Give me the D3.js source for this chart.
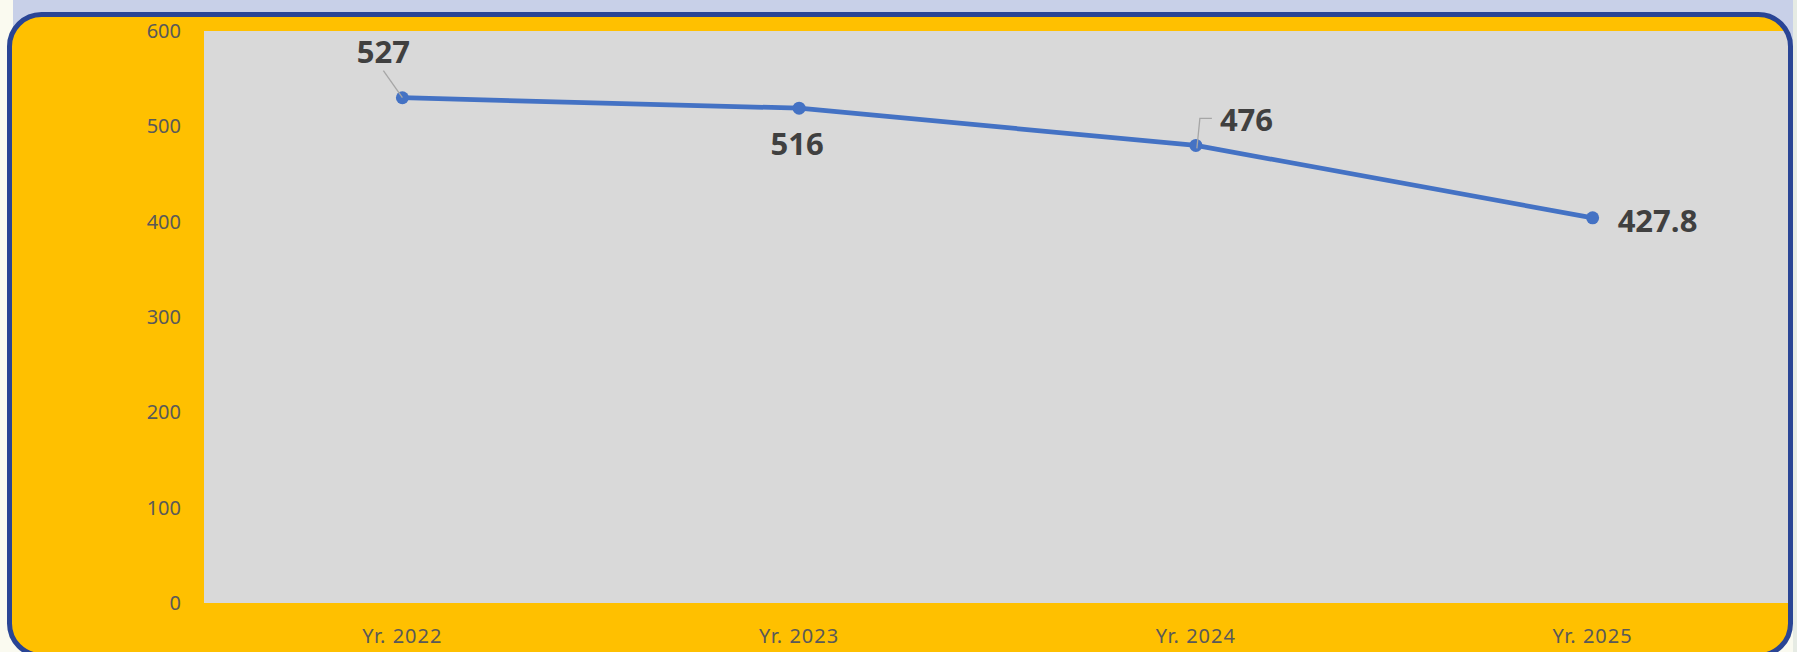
<!DOCTYPE html>
<html>
<head>
<meta charset="utf-8">
<script src="https://cdn.jsdelivr.net/npm/d3@7"></script>
<style>
    body { margin: 0; background: #fafaf0; }
    svg { display: block; }
    .tick text { font-family: "Noto Sans", sans-serif; font-size: 20px; fill: #595959; }
    .dataLabel { font-family: "Open Sans", sans-serif; font-weight: bold; font-size: 31px; fill: #404040; }
</style>
</head>
<body>
<div class="chart"></div>
<script>

// chart data
let categories = ["Yr. 2022", "Yr. 2023", "Yr. 2024", "Yr. 2025"];
let values = [530, 519, 480, 404];
let valueLabels = ["527", "516", "476", "427.8"];
let labelSpots = ["leaderAbove", "below", "leaderRight", "right"];
let yTicks = [0, 100, 200, 300, 400, 500, 600];

let svgWidth = 1797;
let svgHeight = 652;

let plot = { left: 204, right: 1791, top: 31, bottom: 603 };

let svg = d3.select(".chart")
    .append("svg")
    .attr("width", svgWidth)
    .attr("height", svgHeight);

// page strips behind the card
svg.append("rect")
    .attr("x", 13).attr("y", 0)
    .attr("width", 1780).attr("height", 60)
    .attr("fill", "#c8d0e8");
svg.append("rect")
    .attr("x", 1793).attr("y", 0)
    .attr("width", 4).attr("height", svgHeight)
    .attr("fill", "#e6ebe4");

let card = { x: 9.5, y: 14.5, w: 1781, h: 641, r: 32 };

svg.append("clipPath")
    .attr("id", "cardClip")
    .append("rect")
    .attr("x", card.x).attr("y", card.y)
    .attr("width", card.w).attr("height", card.h)
    .attr("rx", card.r);

svg.append("rect")
    .attr("x", card.x).attr("y", card.y)
    .attr("width", card.w).attr("height", card.h)
    .attr("rx", card.r)
    .attr("fill", "#ffc000");

let x = d3.scaleBand()
    .domain(categories)
    .range([plot.left, plot.right]);

let y = d3.scaleLinear()
    .domain([0, 600])
    .range([plot.bottom, plot.top]);

// plot area
svg.append("rect")
    .attr("clip-path", "url(#cardClip)")
    .attr("x", plot.left).attr("y", plot.top)
    .attr("width", plot.right - plot.left)
    .attr("height", plot.bottom - plot.top)
    .attr("fill", "#d9d9d9");

let leftAxis = d3.axisLeft(y).tickValues(yTicks).tickSize(0).tickPadding(23);
svg.append("g")
    .attr("transform", `translate(${plot.left}, 0)`)
    .call(leftAxis)
    .call(g => g.select(".domain").remove());

let bottomAxis = d3.axisBottom(x).tickSize(0).tickPadding(26);
svg.append("g")
    .attr("transform", `translate(0, ${plot.bottom})`)
    .call(bottomAxis)
    .call(g => g.select(".domain").remove())
    .selectAll("text").attr("letter-spacing", "1px");

let cx = d => x(d) + x.bandwidth() / 2;

let line = d3.line()
    .x((d, i) => cx(categories[i]))
    .y(d => y(d));

svg.append("path")
    .datum(values)
    .attr("d", line)
    .attr("fill", "none")
    .attr("stroke", "#4472c4")
    .attr("stroke-width", 4.75)
    .attr("stroke-linejoin", "round");

svg.selectAll("circle.pt")
    .data(values)
    .enter()
    .append("circle")
    .attr("class", "pt")
    .attr("cx", (d, i) => cx(categories[i]))
    .attr("cy", d => y(d))
    .attr("r", 6.5)
    .attr("fill", "#4472c4");

// data labels
values.forEach(function (v, i) {
    let px = cx(categories[i]);
    let py = y(v);
    let spot = labelSpots[i];
    let t = svg.append("text").attr("class", "dataLabel").text(valueLabels[i]);

    if (spot === "leaderAbove") {
        svg.append("path")
            .attr("d", `M${px},${py} L${px - 19},${py - 27}`)
            .attr("stroke", "#a6a6a6").attr("stroke-width", 1.3).attr("fill", "none");
        t.attr("x", px - 19).attr("y", py - 35).attr("text-anchor", "middle");
    } else if (spot === "below") {
        t.attr("x", px - 2).attr("y", py + 47).attr("text-anchor", "middle");
    } else if (spot === "leaderRight") {
        svg.append("path")
            .attr("d", `M${px + 1},${py + 3} L${px + 4},${py - 27} L${px + 16},${py - 27}`)
            .attr("stroke", "#a6a6a6").attr("stroke-width", 1.3).attr("fill", "none");
        t.attr("x", px + 24).attr("y", py - 14).attr("text-anchor", "start");
    } else {
        t.attr("x", px + 25).attr("y", py + 14).attr("text-anchor", "start");
    }
});

// card border on top
svg.append("rect")
    .attr("x", card.x).attr("y", card.y)
    .attr("width", card.w).attr("height", card.h)
    .attr("rx", card.r)
    .attr("fill", "none")
    .attr("stroke", "#2a4595")
    .attr("stroke-width", 5);

</script>
</body>
</html>
